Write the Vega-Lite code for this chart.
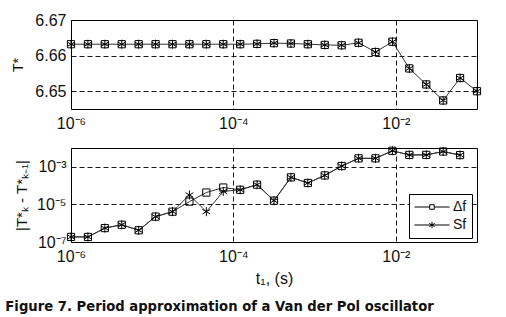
{
  "$schema": "https://vega.github.io/schema/vega-lite/v6.json",
  "padding": {"left": 5, "top": 11, "right": 30, "bottom": 2},
  "background": "white",
  "title": {"text": "Figure 7. Period approximation of a Van der Pol oscillator", "orient": "bottom", "anchor": "start", "frame": "bounds", "dx": -6, "font": "DejaVu Sans", "fontSize": 13.2, "fontWeight": "bold", "color": "#111", "offset": 14},
  "datasets": {
    "top": [
      {"t": 1e-6, "T": 6.6632},
      {"t": 1.6156e-6, "T": 6.6632},
      {"t": 2.6102e-6, "T": 6.6632},
      {"t": 4.2170e-6, "T": 6.6632},
      {"t": 6.8129e-6, "T": 6.6632},
      {"t": 1.1007e-5, "T": 6.6632},
      {"t": 1.7783e-5, "T": 6.6632},
      {"t": 2.8730e-5, "T": 6.6632},
      {"t": 4.6416e-5, "T": 6.6632},
      {"t": 7.4989e-5, "T": 6.6632},
      {"t": 1.2115e-4, "T": 6.6632},
      {"t": 1.9573e-4, "T": 6.6633},
      {"t": 3.1623e-4, "T": 6.6635},
      {"t": 5.1090e-4, "T": 6.6634},
      {"t": 8.2540e-4, "T": 6.6632},
      {"t": 1.3335e-3, "T": 6.6630},
      {"t": 2.1544e-3, "T": 6.6629},
      {"t": 3.4807e-3, "T": 6.6636},
      {"t": 5.6234e-3, "T": 6.6610},
      {"t": 9.0852e-3, "T": 6.6639},
      {"t": 1.4678e-2, "T": 6.6564},
      {"t": 2.3714e-2, "T": 6.6519},
      {"t": 3.8312e-2, "T": 6.6474},
      {"t": 6.1897e-2, "T": 6.6537},
      {"t": 1.0e-1, "T": 6.6500}
    ],
    "bottom": [
      {"t": 1e-6, "series": "Δf", "d": 1.86e-7},
      {"t": 1.6156e-6, "series": "Δf", "d": 1.86e-7},
      {"t": 2.6102e-6, "series": "Δf", "d": 5.5e-7},
      {"t": 4.2170e-6, "series": "Δf", "d": 8.3e-7},
      {"t": 6.8129e-6, "series": "Δf", "d": 4.2e-7},
      {"t": 1.1007e-5, "series": "Δf", "d": 2.24e-6},
      {"t": 1.7783e-5, "series": "Δf", "d": 4.1e-6},
      {"t": 2.8730e-5, "series": "Δf", "d": 1.41e-5},
      {"t": 4.6416e-5, "series": "Δf", "d": 4.27e-5},
      {"t": 7.4989e-5, "series": "Δf", "d": 7.9e-5},
      {"t": 1.2115e-4, "series": "Δf", "d": 6.0e-5},
      {"t": 1.9573e-4, "series": "Δf", "d": 1.12e-4},
      {"t": 3.1623e-4, "series": "Δf", "d": 1.58e-5},
      {"t": 5.1090e-4, "series": "Δf", "d": 2.75e-4},
      {"t": 8.2540e-4, "series": "Δf", "d": 1.38e-4},
      {"t": 1.3335e-3, "series": "Δf", "d": 3.47e-4},
      {"t": 2.1544e-3, "series": "Δf", "d": 1.10e-3},
      {"t": 3.4807e-3, "series": "Δf", "d": 2.82e-3},
      {"t": 5.6234e-3, "series": "Δf", "d": 2.82e-3},
      {"t": 9.0852e-3, "series": "Δf", "d": 7.1e-3},
      {"t": 1.4678e-2, "series": "Δf", "d": 4.3e-3},
      {"t": 2.3714e-2, "series": "Δf", "d": 4.3e-3},
      {"t": 3.8312e-2, "series": "Δf", "d": 6.5e-3},
      {"t": 6.1897e-2, "series": "Δf", "d": 4.2e-3},
      {"t": 1e-6, "series": "Sf", "d": 1.86e-7},
      {"t": 1.6156e-6, "series": "Sf", "d": 1.86e-7},
      {"t": 2.6102e-6, "series": "Sf", "d": 5.5e-7},
      {"t": 4.2170e-6, "series": "Sf", "d": 8.3e-7},
      {"t": 6.8129e-6, "series": "Sf", "d": 4.2e-7},
      {"t": 1.1007e-5, "series": "Sf", "d": 2.24e-6},
      {"t": 1.7783e-5, "series": "Sf", "d": 4.1e-6},
      {"t": 2.8730e-5, "series": "Sf", "d": 3.16e-5},
      {"t": 4.6416e-5, "series": "Sf", "d": 4.1e-6},
      {"t": 7.4989e-5, "series": "Sf", "d": 4.9e-5},
      {"t": 1.2115e-4, "series": "Sf", "d": 6.0e-5},
      {"t": 1.9573e-4, "series": "Sf", "d": 1.12e-4},
      {"t": 3.1623e-4, "series": "Sf", "d": 1.58e-5},
      {"t": 5.1090e-4, "series": "Sf", "d": 2.75e-4},
      {"t": 8.2540e-4, "series": "Sf", "d": 1.38e-4},
      {"t": 1.3335e-3, "series": "Sf", "d": 3.47e-4},
      {"t": 2.1544e-3, "series": "Sf", "d": 1.10e-3},
      {"t": 3.4807e-3, "series": "Sf", "d": 2.82e-3},
      {"t": 5.6234e-3, "series": "Sf", "d": 2.82e-3},
      {"t": 9.0852e-3, "series": "Sf", "d": 7.1e-3},
      {"t": 1.4678e-2, "series": "Sf", "d": 4.3e-3},
      {"t": 2.3714e-2, "series": "Sf", "d": 4.3e-3},
      {"t": 3.8312e-2, "series": "Sf", "d": 6.5e-3},
      {"t": 6.1897e-2, "series": "Sf", "d": 4.2e-3}
    ]
  },
  "vconcat": [
    {
      "width": 406,
      "height": 89,
      "data": {"name": "top"},
      "encoding": {
        "x": {"field": "t", "type": "quantitative", "scale": {"type": "log", "domain": [1e-6, 0.1]},
              "axis": {"title": null, "values": [1e-6, 1e-4, 1e-2], "labelFlush": false, "labelPadding": 6,
                       "labelExpr": "datum.value < 2e-6 ? '10⁻⁶' : datum.value < 2e-4 ? '10⁻⁴' : '10⁻²'"}},
        "y": {"field": "T", "type": "quantitative", "scale": {"domain": [6.645, 6.67], "zero": false, "nice": false},
              "axis": {"title": "T*", "values": [6.65, 6.66, 6.67], "format": ".2f", "titleFontSize": 14, "titlePadding": 9}}
      },
      "layer": [
        {"mark": {"type": "line", "color": "#333", "strokeWidth": 1}},
        {"mark": {"type": "point", "shape": "M-0.8,-0.8H0.8V0.8H-0.8Z", "size": 81, "filled": false, "stroke": "black", "strokeWidth": 1, "opacity": 1}},
        {"mark": {"type": "point", "shape": "M0,-1V1M-0.87,-0.5L0.87,0.5M-0.87,0.5L0.87,-0.5", "size": 81, "filled": false, "stroke": "black", "strokeWidth": 1, "opacity": 1}}
      ]
    },
    {
      "width": 406,
      "height": 94,
      "data": {"name": "bottom"},
      "encoding": {
        "x": {"field": "t", "type": "quantitative", "scale": {"type": "log", "domain": [1e-6, 0.1]},
              "axis": {"title": "t₁, (s)", "titleFontSize": 16, "titlePadding": 6, "values": [1e-6, 1e-4, 1e-2], "labelFlush": false, "labelPadding": 6,
                       "labelExpr": "datum.value < 2e-6 ? '10⁻⁶' : datum.value < 2e-4 ? '10⁻⁴' : '10⁻²'"}},
        "y": {"field": "d", "type": "quantitative", "scale": {"type": "log", "domain": [1e-7, 1e-2], "nice": false},
              "axis": {"title": "|T*ₖ - T*ₖ₋₁|", "titleFontSize": 15, "titlePadding": 7, "values": [1e-7, 1e-5, 1e-3],
                       "labelExpr": "datum.value < 2e-7 ? '10⁻⁷' : datum.value < 2e-5 ? '10⁻⁵' : '10⁻³'"}}
      },
      "layer": [
        {"mark": {"type": "line", "color": "#333", "strokeWidth": 1}, "encoding": {"detail": {"field": "series", "type": "nominal"}}},
        {"transform": [{"filter": "datum.series == 'Δf'"}],
         "mark": {"type": "point", "shape": "M-0.8,-0.8H0.8V0.8H-0.8Z", "size": 81, "filled": false, "stroke": "black", "strokeWidth": 1, "opacity": 1}},
        {"transform": [{"filter": "datum.series == 'Sf'"}],
         "mark": {"type": "point", "shape": "M0,-1V1M-0.87,-0.5L0.87,0.5M-0.87,0.5L0.87,-0.5", "size": 81, "filled": false, "stroke": "black", "strokeWidth": 1, "opacity": 1}},
        {"mark": {"type": "point", "size": 81, "filled": false, "stroke": "black", "strokeWidth": 1, "opacity": 0},
         "encoding": {
           "shape": {"field": "series", "type": "nominal",
                     "scale": {"domain": ["Δf", "Sf"], "range": ["M-1,0H-0.13M0.13,0H1M-0.13,-0.13H0.13V0.13H-0.13Z", "M-1,0H1M0,-0.18V0.18M-0.156,-0.09L0.156,0.09M-0.156,0.09L0.156,-0.09"]},
                     "legend": {"orient": "none", "legendX": 338, "legendY": 46, "title": null, "strokeColor": "black", "fillColor": "white",
                                "padding": 5, "symbolSize": 1225, "symbolOpacity": 1, "symbolStrokeColor": "black", "symbolFillColor": "transparent", "symbolStrokeWidth": 1,
                                "clipHeight": 16, "labelFont": "Liberation Sans", "labelFontSize": 14, "labelColor": "#111", "labelOffset": 3, "rowPadding": 2}}
         }}
      ]
    }
  ],
  "spacing": 39,
  "bounds": "flush",
  "resolve": {"scale": {"shape": "independent"}, "legend": {"shape": "independent"}},
  "config": {
    "font": "Liberation Sans",
    "view": {"stroke": "black", "strokeWidth": 1},
    "axis": {"labelFont": "Liberation Sans", "labelFontSize": 16, "labelColor": "#111", "titleFont": "Liberation Sans", "titleFontWeight": "normal", "titleColor": "#111",
             "grid": true, "gridColor": "black", "gridDash": [5, 3], "gridWidth": 0.9, "gridOpacity": 1, "domain": false, "ticks": false, "labelPadding": 5}
  }
}
